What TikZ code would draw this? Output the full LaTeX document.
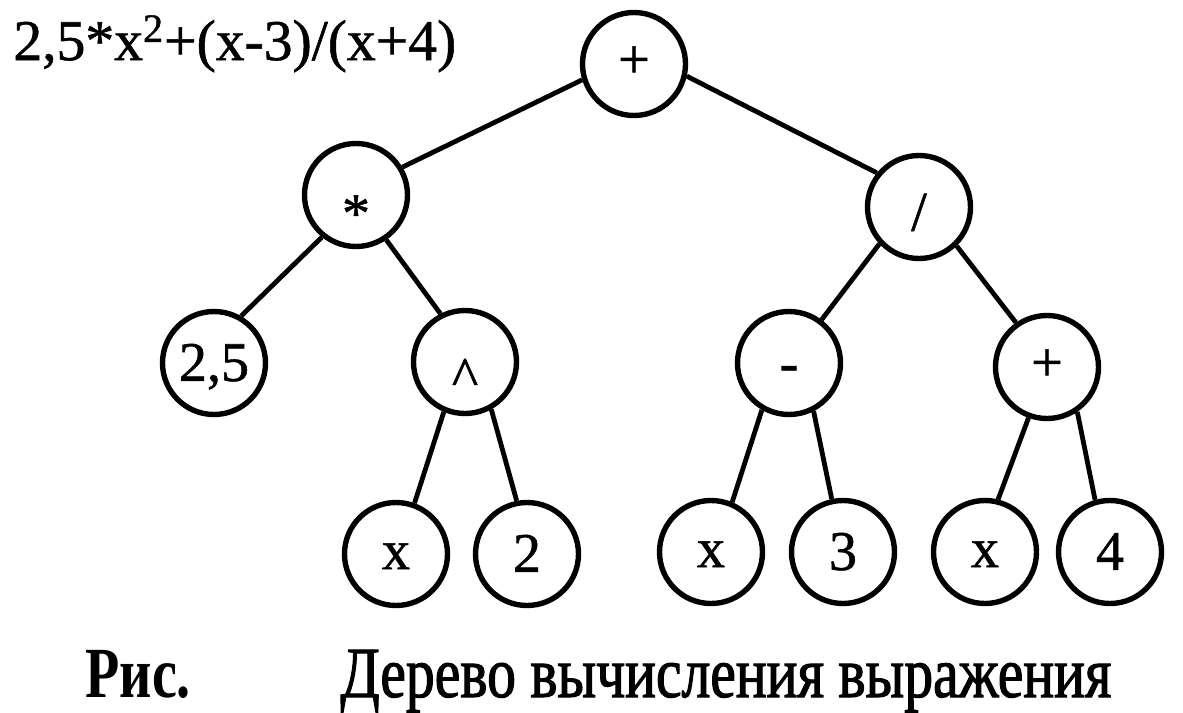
\documentclass[tikz,border=0pt]{standalone}
\usepackage{fontspec}
\setmainfont{Liberation Serif}
\newfontfamily\heavy[FakeBold=1]{Liberation Serif}
\newfontfamily\capfont[FakeStretch=0.8,FakeBold=1.5]{Liberation Serif}
\newfontfamily\capboldfont[FakeStretch=0.78]{Liberation Serif Bold}
\newcommand{\vmidlabel}[1]{\raisebox{-0.32em}{#1}}
\newcommand{\xlabel}{\raisebox{-0.27em}{x}}
\begin{document}
\begin{tikzpicture}[x=0.5pt,y=-0.5pt,
  tnode/.style={draw,circle,line width=2.7pt,minimum size=51.5pt,inner sep=0pt,text height=0pt,text depth=0pt,font=\heavy\fontsize{28}{30}\selectfont},
  edge/.style={line width=2.4pt}]
\useasboundingbox (0,0) rectangle (1183,712);
\node[anchor=base west,inner sep=0pt,font=\heavy\fontsize{28.8}{30}\selectfont] (title) at (13,60) {2,5*x\textsuperscript{2}+(x-3)/(x+4)};
\node[tnode] (root) at (634,64) {\raisebox{-0.25em}{+}};
\node[tnode] (mul) at (356,195) {\raisebox{-0.66em}{*}};
\node[tnode] (div) at (919,207) {\raisebox{-0.42em}{/}};
\node[tnode] (n25) at (214,363) {\vmidlabel{2,5}};
\node[tnode] (pow) at (465,362) {\raisebox{-0.6em}{\textasciicircum}};
\node[tnode] (minus) at (789,363) {\raisebox{-0.33em}{-}};
\node[tnode] (plus) at (1047,367) {\raisebox{-0.25em}{+}};
\node[tnode] (xa) at (396,554) {\xlabel};
\node[tnode] (two) at (527,554) {\vmidlabel{2}};
\node[tnode] (xb) at (711,552) {\xlabel};
\node[tnode] (three) at (843,552) {\vmidlabel{3}};
\node[tnode] (xc) at (985,552) {\xlabel};
\node[tnode] (four) at (1110,552) {\vmidlabel{4}};
\draw[edge] (root.197) -- (mul.31);
\draw[edge] (root.347) -- (div.141);
\draw[edge] (mul.231) -- (n25.60);
\draw[edge] (mul.304) -- (pow.117);
\draw[edge] (div.223) -- (minus.53);
\draw[edge] (div.314) -- (plus.125);
\draw[edge] (pow.247) -- (xa.70);
\draw[edge] (pow.299) -- (two.101);
\draw[edge] (minus.240) -- (xb.67);
\draw[edge] (minus.297) -- (three.102);
\draw[edge] (plus.250) -- (xc.76);
\draw[edge] (plus.304) -- (four.106);
\node[anchor=base west,inner sep=0pt,font=\capboldfont\fontsize{36}{38}\selectfont] (fig) at (85,697) {Рис.};
\node[anchor=base west,inner sep=0pt,font=\capfont\fontsize{36}{38}\selectfont] (cap) at (340,697) {Дерево вычисления выражения};
\end{tikzpicture}
\end{document}
